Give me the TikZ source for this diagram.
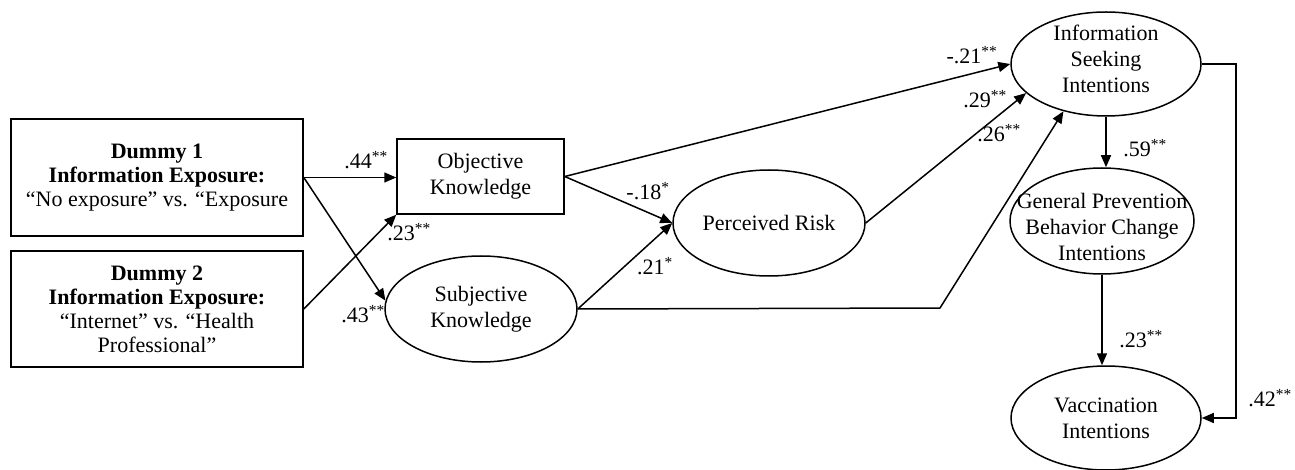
\documentclass[tikz,border=0pt]{standalone}
\usepackage{fontspec}
\setmainfont{Liberation Serif}
\usetikzlibrary{shapes.geometric,arrows.meta,calc}
\newcommand{\sigone}{\textsuperscript{*}}
\newcommand{\sigtwo}{\textsuperscript{**}}
\begin{document}
\begin{tikzpicture}[x=1pt,y=-1pt,
  every node/.style={font=\fontsize{22}{24}\selectfont},
  box/.style={draw,line width=1.6pt,rectangle,inner sep=0pt,align=center},
  ell/.style={draw,line width=1.5pt,ellipse,inner sep=0pt},
  txt/.style={align=center,inner sep=0pt,font=\fontsize{22}{26}\selectfont},
  lab/.style={inner sep=0pt,font=\fontsize{22}{24}\selectfont},
  arr/.style={line width=1.5pt,-{Triangle[length=12pt,width=10pt]}}]
\useasboundingbox (0,0) rectangle (1295,470);

\node[box,minimum width=292pt,minimum height=117pt] (d1) at (157,177.5)
  {\textbf{Dummy 1}\\ \textbf{Information Exposure:}\\ “No exposure” vs. “Exposure};
\node[box,minimum width=292pt,minimum height=116pt] (d2) at (157,309)
  {\textbf{Dummy 2}\\ \textbf{Information Exposure:}\\ “Internet” vs. “Health\\ Professional”};
\node[box,line width=1.5pt,minimum width=167pt,minimum height=75pt,font=\fontsize{22}{26}\selectfont] (ok) at (480.5,176.5)
  {Objective\\ Knowledge};

\node[ell,minimum width=192pt,minimum height=106pt] (sk) at (481,309) {};
\node[txt] (skt) at (sk) {Subjective\\ Knowledge};
\node[ell,minimum width=192pt,minimum height=106pt] (pr) at (769,223) {};
\node[txt] (prt) at (pr) {Perceived Risk};
\node[ell,minimum width=190pt,minimum height=104pt] (isi) at (1106,64) {};
\node[txt] (isit) at (1106,59) {Information\\ Seeking\\ Intentions};
\node[ell,minimum width=184pt,minimum height=106pt] (gp) at (1102,221) {};
\node[txt] (gpt) at (1102,227) {General Prevention\\ Behavior Change\\ Intentions};
\node[ell,minimum width=190pt,minimum height=104pt] (vi) at (1106,418) {};
\node[txt] (vit) at (vi) {Vaccination\\ Intentions};

\coordinate (bend) at (940,308);

\draw[arr] (d1.east) -- (d1.east -| ok.west);
\draw[arr] (d1.east) -- (sk.175);
\draw[arr] (d2.east) -- (ok.south west);
\draw[arr] (ok.east) -- (pr.west);
\draw[arr] (ok.east) -- (isi.west);
\draw[arr] (sk.east) -- (pr.west);
\draw[arr] (pr.east) -- (isi.200);
\draw[arr] (sk.east) -- (bend) -- (isi.228);
\draw[arr] (isi.south) -- (isi.south |- gp.north);
\draw[arr] (gp.south) -- (gp.south |- vi.north);
\draw[arr] (isi.east) -- ++(34,0) |- (vi.east);

\node[lab] (l1) at (366,160) {.44\sigtwo};
\node[lab] (l2) at (409,232) {.23\sigtwo};
\node[lab] (l3) at (363,314) {.43\sigtwo};
\node[lab] (l4) at (648,191) {-.18\sigone};
\node[lab] (l5) at (655,266) {.21\sigone};
\node[lab] (l6) at (972,55) {-.21\sigtwo};
\node[lab] (l7) at (985,99) {.29\sigtwo};
\node[lab] (l8) at (999,133) {.26\sigtwo};
\node[lab] (l9) at (1145,148) {.59\sigtwo};
\node[lab] (l10) at (1141,339) {.23\sigtwo};
\node[lab] (l11) at (1270,398) {.42\sigtwo};
\end{tikzpicture}
\end{document}
